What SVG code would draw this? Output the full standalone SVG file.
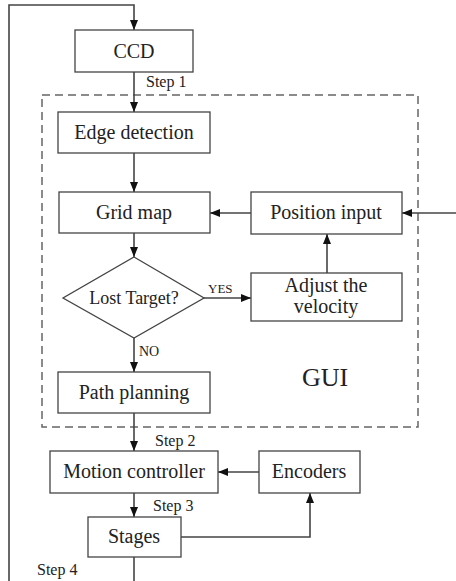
<svg xmlns="http://www.w3.org/2000/svg" width="456" height="581" viewBox="0 0 456 581">
<defs>
<marker id="ah" markerWidth="10" markerHeight="8" refX="10" refY="4" orient="auto" markerUnits="userSpaceOnUse">
<path d="M0,0 L10,4 L0,8 Z" fill="#111"/>
</marker>
<style>
.box{fill:#fff;stroke:#444;stroke-width:1.3}
.ln{fill:none;stroke:#444;stroke-width:1.6}
.t{font-family:"Liberation Serif",serif;font-size:20px;fill:#222;text-anchor:middle}
.s{font-family:"Liberation Serif",serif;font-size:16px;fill:#222}
</style>
</defs>
<rect width="456" height="581" fill="#fff"/>
<g id="gui">
<rect x="42" y="95" width="376" height="332" fill="none" stroke="#666" stroke-width="1.5" stroke-dasharray="8,5"/>
<text x="325" y="386" class="t" style="font-size:26px">GUI</text>
</g>
<g id="connectors">
<path class="ln" d="M9,581 V5 H134 V30" marker-end="url(#ah)"/>
<path class="ln" d="M134,72 V112" marker-end="url(#ah)"/>
<path class="ln" d="M134,153 V192" marker-end="url(#ah)"/>
<path class="ln" d="M134,233 V257" marker-end="url(#ah)"/>
<path class="ln" d="M134,338 V372" marker-end="url(#ah)"/>
<path class="ln" d="M204,298 H251" marker-end="url(#ah)"/>
<path class="ln" d="M327,273 V234" marker-end="url(#ah)"/>
<path class="ln" d="M251,213 H210" marker-end="url(#ah)"/>
<path class="ln" d="M456,213 H402" marker-end="url(#ah)"/>
<path class="ln" d="M134,413 V451" marker-end="url(#ah)"/>
<path class="ln" d="M259,472 H218" marker-end="url(#ah)"/>
<path class="ln" d="M134,493 V517" marker-end="url(#ah)"/>
<path class="ln" d="M181,537 H310 V493" marker-end="url(#ah)"/>
<path class="ln" d="M134,557 V581"/>
<text x="146" y="87" class="s">Step 1</text>
<text x="208" y="293" class="s" style="font-size:13px">YES</text>
<text x="139" y="356" class="s" style="font-size:14px">NO</text>
<text x="155" y="446" class="s">Step 2</text>
<text x="153" y="511" class="s">Step 3</text>
<text x="37" y="575" class="s">Step 4</text>
</g>
<g id="ccd"><rect class="box" x="75" y="30" width="118" height="42"/><text x="134" y="58" class="t">CCD</text></g>
<g id="edge"><rect class="box" x="58" y="112" width="152" height="41"/><text x="134" y="139" class="t">Edge detection</text></g>
<g id="grid"><rect class="box" x="59" y="192" width="151" height="41"/><text x="134" y="219" class="t">Grid map</text></g>
<g id="position"><rect class="box" x="251" y="192" width="151" height="42"/><text x="326" y="219" class="t">Position input</text></g>
<g id="lost"><polygon class="box" points="134,257 204,298 134,338 63,298"/><text x="134" y="304" class="t" style="font-size:18px">Lost Target?</text></g>
<g id="adjust"><rect class="box" x="251" y="273" width="151" height="48"/><text x="326" y="292" class="t">Adjust the</text><text x="326" y="313" class="t">velocity</text></g>
<g id="path"><rect class="box" x="58" y="372" width="152" height="41"/><text x="134" y="399" class="t">Path planning</text></g>
<g id="motion"><rect class="box" x="50" y="451" width="168" height="42"/><text x="134" y="478" class="t">Motion controller</text></g>
<g id="encoders"><rect class="box" x="259" y="451" width="101" height="42"/><text x="309" y="478" class="t">Encoders</text></g>
<g id="stages"><rect class="box" x="88" y="517" width="93" height="40"/><text x="134" y="543" class="t">Stages</text></g>
</svg>
